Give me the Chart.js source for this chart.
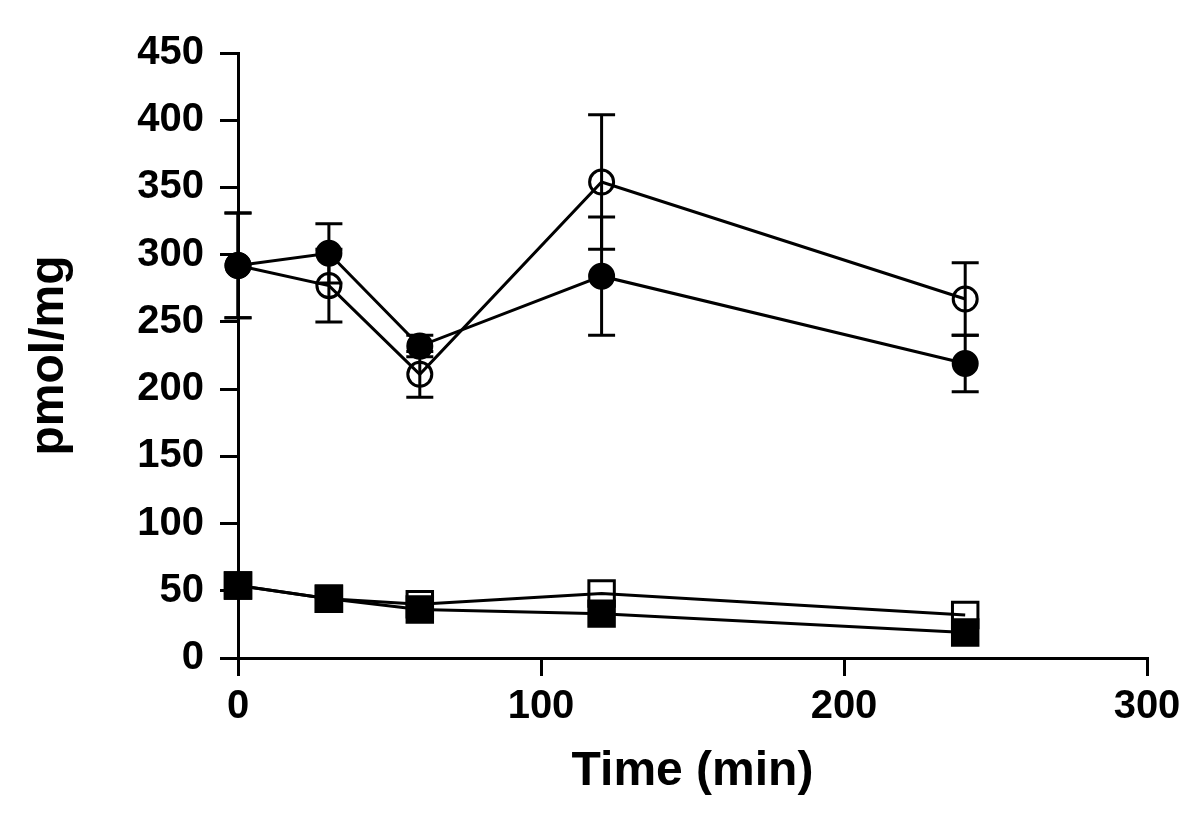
<!DOCTYPE html>
<html>
<head>
<meta charset="utf-8">
<script src="https://cdn.jsdelivr.net/npm/chart.js@4"></script>
<style>
  html, body { margin: 0; padding: 0; background: #fff; }
  #wrap { width: 1200px; height: 821px; }
</style>
</head>
<body>
<div id="wrap"><canvas id="chart" width="1200" height="821"></canvas></div>
<script>
const times = [0, 30, 60, 120, 240];
const filledCircle = [292, 301, 232, 284, 219];
const filledCircleErr = [39, 22, 8, 44, 21];
const openCircle = [292, 277, 211, 354, 267];
const openCircleErr = [39, 27, 17, 50, 27];
const filledSquare = [54, 44, 36, 33, 19];
const openSquare = [54, 44, 40, 48, 32];
const yTicks = [0, 50, 100, 150, 200, 250, 300, 350, 400, 450];
const xTicks = [0, 100, 200, 300];

const pts = arr => arr.map((v, i) => ({ x: times[i], y: v }));
const FONT = '"Liberation Sans", Arial, sans-serif';

function series(data, style, filled, radius) {
  return {
    data: pts(data),
    clip: false,
    borderColor: '#000',
    borderWidth: 3,
    pointStyle: style,
    pointRadius: radius,
    pointHoverRadius: radius,
    pointBorderWidth: 3,
    pointBorderColor: '#000',
    pointBackgroundColor: filled ? '#000' : 'rgba(0,0,0,0)',
    backgroundColor: filled ? '#000' : 'rgba(0,0,0,0)',
    tension: 0,
    fill: false
  };
}

// error bars drawn under the markers
const errorBars = {
  id: 'errorBars',
  beforeDatasetsDraw(chart) {
    const { ctx, scales: { x, y } } = chart;
    const sets = [[filledCircle, filledCircleErr], [openCircle, openCircleErr]];
    ctx.save();
    ctx.strokeStyle = '#000';
    ctx.lineWidth = 3;
    sets.forEach(([vals, errs]) => {
      vals.forEach((v, i) => {
        const px = x.getPixelForValue(times[i]);
        const top = y.getPixelForValue(v + errs[i]);
        const bot = y.getPixelForValue(v - errs[i]);
        ctx.beginPath();
        ctx.moveTo(px, top); ctx.lineTo(px, bot);
        ctx.moveTo(px - 13.5, top); ctx.lineTo(px + 13.5, top);
        ctx.moveTo(px - 13.5, bot); ctx.lineTo(px + 13.5, bot);
        ctx.stroke();
      });
    });
    ctx.restore();
  }
};

new Chart(document.getElementById('chart'), {
  type: 'line',
  data: {
    datasets: [
      series(filledCircle, 'circle', true, 12),
      series(filledSquare, 'rect', true, 18),
      series(openCircle, 'circle', false, 12),
      series(openSquare, 'rect', false, 18)
    ]
  },
  options: {
    responsive: false,
    animation: false,
    layout: { padding: { top: 53, right: 53, left: 0, bottom: 0 } },
    plugins: { legend: { display: false }, tooltip: { enabled: false } },
    scales: {
      x: {
        type: 'linear',
        min: 0, max: 300,
        afterFit: s => { s.height = 163; },
        afterBuildTicks: s => { s.ticks = xTicks.map(v => ({ value: v })); },
        border: { color: '#000', width: 3 },
        grid: { drawOnChartArea: false, color: '#000', lineWidth: 3, tickLength: 18 },
        ticks: { color: '#000', padding: 7, font: { family: FONT, size: 40, weight: 'bold' } },
        title: { display: true, text: 'Time (min)', color: '#000', padding: { top: 0, bottom: 20 },
                 font: { family: FONT, size: 48, weight: 'bold' } }
      },
      y: {
        type: 'linear',
        min: 0, max: 450,
        afterFit: s => { s.width = 238; },
        afterBuildTicks: s => { s.ticks = yTicks.map(v => ({ value: v })); },
        border: { color: '#000', width: 3 },
        grid: { drawOnChartArea: false, color: '#000', lineWidth: 3, tickLength: 18 },
        ticks: { color: '#000', padding: 16, font: { family: FONT, size: 40, weight: 'bold' } },
        title: { display: true, text: 'pmol/mg', color: '#000', padding: { top: 21, bottom: 0 },
                 font: { family: FONT, size: 48, weight: 'bold' } }
      }
    }
  },
  plugins: [errorBars]
});
</script>
</body>
</html>
